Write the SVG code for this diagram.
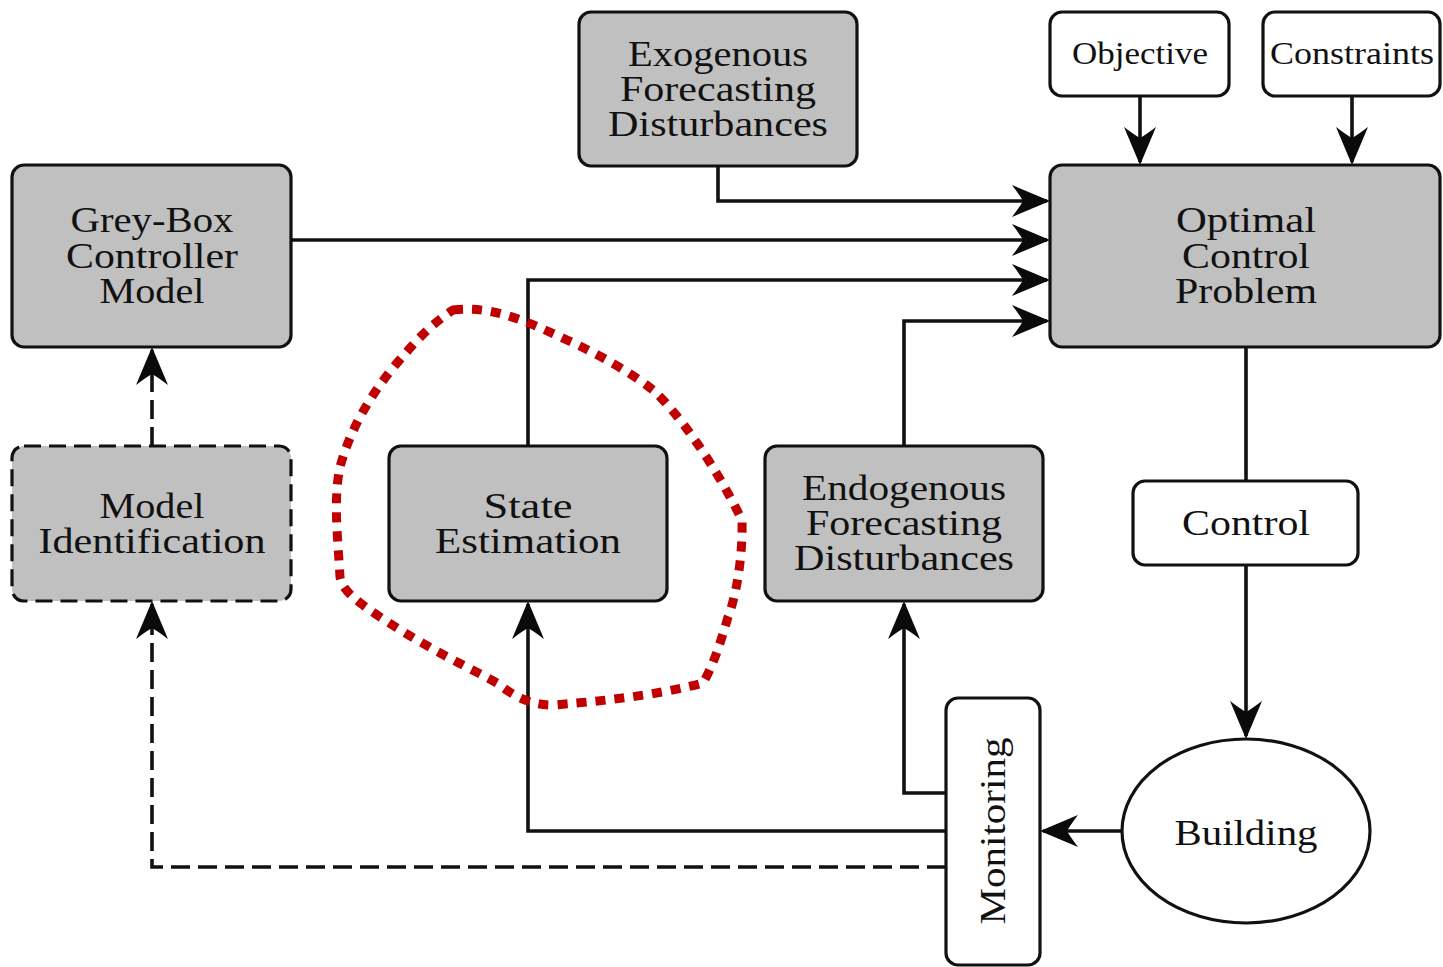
<svg xmlns="http://www.w3.org/2000/svg" width="1443" height="967" viewBox="0 0 1443 967">
  <style>
    .box { fill: #c0c0c0; stroke: #111; stroke-width: 3.2; }
    .wbox { fill: #fff; stroke: #111; stroke-width: 3.2; }
    .dbox { fill: #c0c0c0; stroke: #111; stroke-width: 3.2; stroke-dasharray: 17 8; }
    .lbl { font-family: "Liberation Serif", "DejaVu Serif", serif; font-size: 36px; fill: #111; text-anchor: middle; }
    .sm { font-size: 31px; }
    .wire { fill: none; stroke: #111; stroke-width: 3.6; }
    .dash { stroke-dasharray: 19 8; }
    .mark { fill: none; stroke: #c00000; stroke-width: 9; stroke-dasharray: 10 9; }
  </style>
  <defs>
    <marker id="stealth" markerUnits="userSpaceOnUse" viewBox="-40 -18 44 36" markerWidth="44" markerHeight="36" refX="-3" refY="0" orient="auto">
      <path d="M0,0 L-38,-16 Q-29,-4 -27,0 Q-29,4 -38,16 Z" fill="#0a0a0a"/>
    </marker>
  </defs>

  <rect width="1443" height="967" fill="#fff"/>

  <!-- connectors -->
  <g id="connectors">
    <path class="wire" d="M718,166 V201 H1047" marker-end="url(#stealth)"/>
    <path class="wire" d="M291,240 H1047" marker-end="url(#stealth)"/>
    <path class="wire" d="M528,446 V280 H1047" marker-end="url(#stealth)"/>
    <path class="wire" d="M904,446 V321 H1047" marker-end="url(#stealth)"/>
    <path class="wire" d="M1140,96 V162" marker-end="url(#stealth)"/>
    <path class="wire" d="M1352,96 V162" marker-end="url(#stealth)"/>
    <path class="wire" d="M1246,347 V481"/>
    <path class="wire" d="M1246,565 V736" marker-end="url(#stealth)"/>
    <path class="wire" d="M1122,831 H1043" marker-end="url(#stealth)"/>
    <path class="wire" d="M946,793 H904 V604" marker-end="url(#stealth)"/>
    <path class="wire" d="M946,831 H528 V604" marker-end="url(#stealth)"/>
    <path class="wire dash" d="M946,867 H152 V604" marker-end="url(#stealth)"/>
    <path class="wire dash" d="M152,446 V350" marker-end="url(#stealth)"/>
  </g>

  <!-- nodes -->
  <g id="exogenous">
    <rect class="box" x="579" y="12" width="278" height="154" rx="12"/>
    <text class="lbl" x="718" y="66" textLength="180" lengthAdjust="spacingAndGlyphs">Exogenous</text>
    <text class="lbl" x="718" y="101" textLength="196" lengthAdjust="spacingAndGlyphs">Forecasting</text>
    <text class="lbl" x="718" y="136" textLength="220" lengthAdjust="spacingAndGlyphs">Disturbances</text>
  </g>
  <g id="objective">
    <rect class="wbox" x="1050" y="12" width="179" height="84" rx="12"/>
    <text class="lbl sm" x="1140" y="64" textLength="136" lengthAdjust="spacingAndGlyphs">Objective</text>
  </g>
  <g id="constraints">
    <rect class="wbox" x="1263" y="12" width="177" height="84" rx="12"/>
    <text class="lbl sm" x="1352" y="64" textLength="164" lengthAdjust="spacingAndGlyphs">Constraints</text>
  </g>
  <g id="grey-box">
    <rect class="box" x="12" y="165" width="279" height="182" rx="12"/>
    <text class="lbl" x="152" y="232" textLength="163" lengthAdjust="spacingAndGlyphs">Grey-Box</text>
    <text class="lbl" x="152" y="268" textLength="172" lengthAdjust="spacingAndGlyphs">Controller</text>
    <text class="lbl" x="152" y="303" textLength="105" lengthAdjust="spacingAndGlyphs">Model</text>
  </g>
  <g id="ocp">
    <rect class="box" x="1050" y="165" width="390" height="182" rx="12"/>
    <text class="lbl" x="1246" y="232" textLength="140" lengthAdjust="spacingAndGlyphs">Optimal</text>
    <text class="lbl" x="1246" y="268" textLength="128" lengthAdjust="spacingAndGlyphs">Control</text>
    <text class="lbl" x="1246" y="303" textLength="142" lengthAdjust="spacingAndGlyphs">Problem</text>
  </g>
  <g id="model-identification">
    <rect class="dbox" x="12" y="446" width="279" height="155" rx="12"/>
    <text class="lbl" x="152" y="518" textLength="105" lengthAdjust="spacingAndGlyphs">Model</text>
    <text class="lbl" x="152" y="553" textLength="227" lengthAdjust="spacingAndGlyphs">Identification</text>
  </g>
  <g id="state-estimation">
    <rect class="box" x="389" y="446" width="278" height="155" rx="12"/>
    <text class="lbl" x="528" y="518" textLength="89" lengthAdjust="spacingAndGlyphs">State</text>
    <text class="lbl" x="528" y="553" textLength="186" lengthAdjust="spacingAndGlyphs">Estimation</text>
  </g>
  <g id="endogenous">
    <rect class="box" x="765" y="446" width="278" height="155" rx="12"/>
    <text class="lbl" x="904" y="500" textLength="204" lengthAdjust="spacingAndGlyphs">Endogenous</text>
    <text class="lbl" x="904" y="535" textLength="196" lengthAdjust="spacingAndGlyphs">Forecasting</text>
    <text class="lbl" x="904" y="570" textLength="220" lengthAdjust="spacingAndGlyphs">Disturbances</text>
  </g>
  <g id="control">
    <rect class="wbox" x="1133" y="481" width="225" height="84" rx="12"/>
    <text class="lbl" x="1246" y="535" textLength="128" lengthAdjust="spacingAndGlyphs">Control</text>
  </g>
  <g id="building">
    <ellipse class="wbox" cx="1246" cy="831" rx="124" ry="92"/>
    <text class="lbl" x="1246" y="845" textLength="143" lengthAdjust="spacingAndGlyphs">Building</text>
  </g>
  <g id="monitoring">
    <rect class="wbox" x="946" y="698" width="94" height="267" rx="12"/>
    <text class="lbl" transform="translate(1005,831) rotate(-90)" x="0" y="0" textLength="187" lengthAdjust="spacingAndGlyphs">Monitoring</text>
  </g>

  <!-- red dotted outline round the state estimator -->
  <g id="highlight">
    <path class="mark" d="M453,310 C490,306 520,318 567,340 C600,355 630,372 653,390 C680,415 715,465 742,520 C743,560 735,600 728,617 C720,645 712,668 703,683 C670,692 620,700 553,705 C530,705 515,697 497,683 C470,668 430,650 380,617 C355,600 342,590 340,577 C338,540 333,500 340,467 C350,430 370,395 397,363 C415,342 430,325 453,310 Z"/>
  </g>
</svg>
